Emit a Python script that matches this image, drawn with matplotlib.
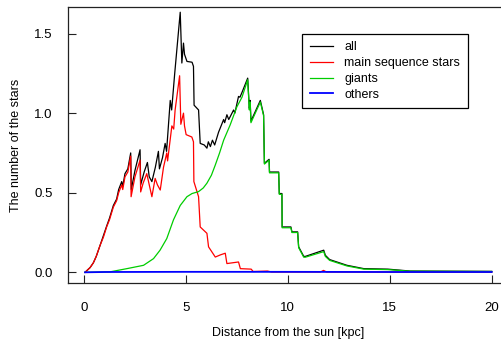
#Star counts vs distance from the sun, redrawn in R base-graphics style

import numpy as np
import matplotlib.pyplot as plt

plt.rcParams['font.family'] = ['Liberation Sans', 'DejaVu Sans']

#all stars
all_x = [0.05, 0.3, 0.46, 0.6, 0.79, 0.95, 1.11, 1.25, 1.44, 1.6, 1.7, 1.85, 1.9, 2.01, 2.15,
         2.29, 2.32, 2.5, 2.75, 2.78, 2.95, 3.11, 3.2, 3.33, 3.5, 3.65, 3.7, 3.85, 3.98, 4.05,
         4.23, 4.3, 4.45, 4.72, 4.8, 4.88, 4.93, 5.05, 5.3, 5.37, 5.4, 5.62, 5.7, 5.9, 6.03,
         6.1, 6.2, 6.3, 6.41, 6.6, 6.85, 6.9, 7.01, 7.1, 7.34, 7.4, 7.58, 7.65, 7.75, 8.03,
         8.11, 8.15, 8.19, 8.65, 8.81, 8.85, 9.08, 9.1, 9.55, 9.58, 9.71, 9.72, 10.15, 10.2,
         10.48, 10.53, 10.78, 10.86, 11.76, 11.84, 12.05, 12.9, 13.73, 14.9, 16.0, 20.0]
all_y = [0.0, 0.03, 0.06, 0.1, 0.17, 0.23, 0.29, 0.34, 0.42, 0.46, 0.52, 0.57, 0.54, 0.62, 0.65,
         0.75, 0.52, 0.64, 0.77, 0.55, 0.63, 0.69, 0.6, 0.57, 0.66, 0.76, 0.65, 0.72, 0.81, 0.76,
         1.08, 1.02, 1.25, 1.634, 1.315, 1.44, 1.37, 1.325, 1.32, 1.294, 1.05, 1.02, 0.81, 0.8, 0.78,
         0.82, 0.79, 0.83, 0.8, 0.88, 0.96, 0.94, 0.99, 0.96, 1.02, 1.0, 1.105, 1.1, 1.13, 1.22,
         1.03, 1.08, 0.95, 1.08, 0.99, 0.685, 0.71, 0.63, 0.63, 0.495, 0.495, 0.285, 0.285, 0.254,
         0.254, 0.16, 0.10, 0.10, 0.139, 0.107, 0.08, 0.044, 0.023, 0.02, 0.008, 0.006]

#main sequence stars
ms_x = [0.05, 0.3, 0.46, 0.6, 0.79, 0.95, 1.11, 1.25, 1.44, 1.6, 1.7, 1.85, 1.9, 2.01, 2.15,
        2.29, 2.31, 2.5, 2.75, 2.78, 2.9, 3.08, 3.2, 3.33, 3.49, 3.6, 3.74, 3.9, 4.06, 4.1,
        4.31, 4.4, 4.47, 4.69, 4.75, 4.88, 4.93, 5.01, 5.29, 5.37, 5.39, 5.62, 5.7, 6.03, 6.11,
        6.44, 6.7, 6.93, 7.01, 7.58, 7.67, 8.2, 8.3, 9.0, 9.2, 11.6, 11.75, 11.9, 20.0]
ms_y = [0.0, 0.03, 0.06, 0.1, 0.17, 0.22, 0.285, 0.33, 0.41, 0.45, 0.5, 0.55, 0.52, 0.6, 0.63,
        0.73, 0.475, 0.6, 0.705, 0.505, 0.56, 0.62, 0.55, 0.475, 0.59, 0.55, 0.517, 0.66, 0.75, 0.7,
        0.92, 0.9, 1.02, 1.235, 0.93, 1.0, 0.92, 0.865, 0.85, 0.82, 0.57, 0.475, 0.285, 0.245, 0.16,
        0.096, 0.11, 0.12, 0.055, 0.065, 0.023, 0.02, 0.005, 0.008, 0.002, 0.002, 0.012, 0.002, 0.001]

#giants
gi_x = [0.05, 1.28, 2.1, 2.92, 3.41, 3.73, 4.06, 4.39, 4.72, 5.05, 5.3, 5.62, 5.85, 6.03, 6.25,
        6.44, 6.65, 6.85, 7.17, 7.5, 7.75, 8.03, 8.11, 8.15, 8.19, 8.65, 8.81, 8.85, 9.08, 9.1,
        9.55, 9.58, 9.71, 9.72, 10.15, 10.2, 10.48, 10.53, 10.78, 10.86, 11.76, 11.84, 12.05,
        12.9, 13.73, 14.9, 16.0, 20.0]
gi_y = [0.0, 0.003, 0.023, 0.044, 0.086, 0.139, 0.212, 0.33, 0.42, 0.475, 0.495, 0.507, 0.53, 0.56, 0.61,
        0.674, 0.75, 0.83, 0.926, 1.04, 1.1, 1.21, 1.02, 1.07, 0.94, 1.07, 0.985, 0.68, 0.705, 0.625,
        0.625, 0.49, 0.49, 0.28, 0.28, 0.25, 0.25, 0.155, 0.095, 0.095, 0.13, 0.1, 0.075,
        0.04, 0.02, 0.017, 0.007, 0.005]

#others
ot_x = [0.05, 1.0, 5.0, 10.0, 15.0, 20.0]
ot_y = [0.0, 0.002, 0.003, 0.003, 0.002, 0.002]

fig = plt.figure(figsize=(5.01, 3.46), dpi=100)
W, H = 501.0, 346.0
ax = fig.add_axes([67.7/W, (H-283.3)/H, (508-67.7)/W, (283.3-7.3)/H])

ax.plot(all_x, all_y, color='black', lw=0.9, label='all')
ax.plot(ms_x, ms_y, color='#ff0000', lw=0.9, label='main sequence stars')
ax.plot(gi_x, gi_y, color='#00cd00', lw=0.9, label='giants')
ax.plot(ot_x, ot_y, color='#0000ff', lw=1.3, label='others')

ax.set_xlim(-0.8, 20.8)
ax.set_ylim(-0.069, 1.665)
ax.set_xticks([0, 5, 10, 15, 20])
ax.set_yticks([0.0, 0.5, 1.0, 1.5])
ax.set_yticklabels(['0.0', '0.5', '1.0', '1.5'])
ax.tick_params(direction='in', length=5.5, width=0.8, labelsize=9.5, color='#222222')
ax.tick_params(axis='x', pad=13.5)
ax.tick_params(axis='y', pad=11)
for s in ax.spines.values():
    s.set_linewidth(0.9)
    s.set_color('#222222')

ax.set_xlabel('Distance from the sun [kpc]', fontsize=9.0, labelpad=9.0)
ax.set_ylabel('The number of the stars', fontsize=9.0, labelpad=8.5)

leg = ax.legend(loc='upper left', bbox_to_anchor=(302/W, 1-34/H), bbox_transform=fig.transFigure,
                fontsize=9.0, fancybox=False, edgecolor='black', framealpha=1,
                handlelength=1.9, handletextpad=0.9, labelspacing=0.3, borderpad=0.6,
                borderaxespad=0)
leg.get_frame().set_linewidth(0.9)

fig.savefig('out.png', dpi=100)
